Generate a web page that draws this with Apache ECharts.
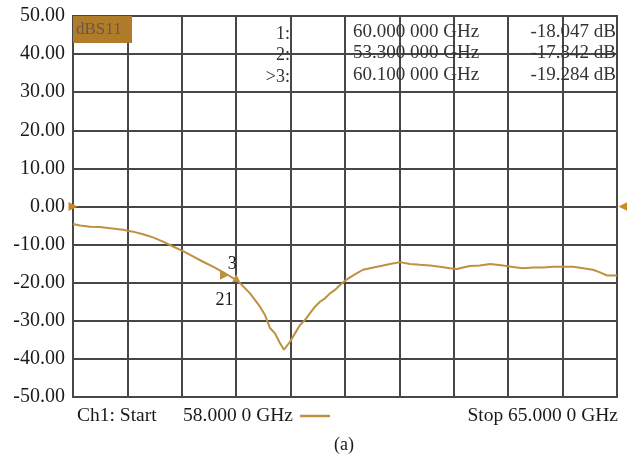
<!DOCTYPE html>
<html>
<head>
<meta charset="utf-8">
<script src="https://cdn.jsdelivr.net/npm/echarts@6/dist/echarts.min.js"></script>
<style>
html,body{margin:0;padding:0;background:#fff;}
#chart{width:627px;height:459px;}
</style>
</head>
<body>
<div id="chart"></div>
<script>
// ---- data ----
var freqGHz = [58.000, 58.090, 58.219, 58.347, 58.476, 58.643, 58.772, 58.901, 59.029, 59.158,
  59.287, 59.415, 59.544, 59.673, 59.801, 59.930, 60.000, 60.059, 60.100, 60.149,
  60.278, 60.406, 60.471, 60.535, 60.599, 60.664, 60.715, 60.792, 60.857, 60.921,
  60.985, 61.050, 61.114, 61.178, 61.243, 61.307, 61.371, 61.436, 61.500, 61.564,
  61.654, 61.732, 61.822, 61.912, 61.989, 62.079, 62.208, 62.337, 62.465, 62.594,
  62.723, 62.851, 62.941, 63.018, 63.109, 63.237, 63.366, 63.456, 63.533, 63.662,
  63.791, 63.919, 64.048, 64.177, 64.305, 64.434, 64.563, 64.691, 64.781, 64.872, 65.000];
var s11dB = [-4.6, -5.0, -5.3, -5.4, -5.7, -6.1, -6.6, -7.3, -8.1, -9.2,
  -10.5, -11.7, -13.1, -14.5, -15.8, -17.2, -18.05, -18.8, -19.28, -20.1,
  -22.8, -26.3, -28.5, -31.9, -33.3, -35.9, -37.6, -35.5, -33.3, -31.1,
  -29.8, -28.0, -26.3, -25.0, -24.1, -22.8, -21.9, -20.6, -19.5, -18.6,
  -17.5, -16.6, -16.2, -15.8, -15.5, -15.1, -14.6, -15.1, -15.3, -15.5,
  -15.8, -16.2, -16.4, -16.0, -15.6, -15.5, -15.1, -15.3, -15.5, -15.9,
  -16.2, -16.0, -16.0, -15.8, -15.8, -15.8, -16.2, -16.6, -17.3, -18.1, -18.1];
var markerIds = ['1:', '2:', '>3:'];
var markerFreqText = ['60.000 000 GHz', '53.300 000 GHz', '60.100 000 GHz'];
var markerValText = ['-18.047 dB', '-17.342 dB', '-19.284 dB'];
var markerOnTrace = [[60.0, -18.047, '21'], [60.1, -19.284, '3']];
var refLevel = 0;
var startText = 'Ch1: Start', startFreqText = '58.000 0 GHz', stopText = 'Stop 65.000 0 GHz';
var traceName = 'dBS11';
var caption = '(a)';
var xMin = 58, xMax = 65, yMin = -50, yMax = 50, yStep = 10, xDivs = 10;

// ---- chart ----
var serif = "'Liberation Serif','DejaVu Serif',serif";
var traceColor = '#bf9040';
var gridColor = '#474747';
var textColor = '#1a1a1a';
var chart = echarts.init(document.getElementById('chart'), null, {renderer: 'canvas'});

var pts = freqGHz.map(function (f, i) { return [f, s11dB[i]]; });

var graphics = [
  {type: 'rect', left: 73, top: 16, shape: {width: 59, height: 27}, style: {fill: '#b07c2a'}, z: 10},
  {type: 'text', x: 76, y: 30, z: 11, style: {text: traceName, fill: '#6a5844', font: '17px ' + serif, textAlign: 'left', textVerticalAlign: 'middle'}},
  {type: 'text', x: 77, y: 416, style: {text: startText, fill: textColor, font: '19.5px ' + serif, textAlign: 'left', textVerticalAlign: 'middle'}},
  {type: 'text', x: 183, y: 416, style: {text: startFreqText, fill: textColor, font: '19.5px ' + serif, textAlign: 'left', textVerticalAlign: 'middle'}},
  {type: 'line', shape: {x1: 300, y1: 416, x2: 330, y2: 416}, style: {stroke: traceColor, lineWidth: 2.5}},
  {type: 'text', x: 618, y: 416, style: {text: stopText, fill: textColor, font: '19.5px ' + serif, textAlign: 'right', textVerticalAlign: 'middle'}},
  {type: 'text', x: 344, y: 445, style: {text: caption, fill: textColor, font: '18px ' + serif, textAlign: 'center', textVerticalAlign: 'middle'}}
];
var rowY = [34, 55, 77];
markerIds.forEach(function (id, i) {
  graphics.push({type: 'text', x: 290, y: rowY[i], z: 5, style: {text: id, fill: '#333', font: '18px ' + serif, textAlign: 'right', textVerticalAlign: 'middle'}});
  graphics.push({type: 'text', x: 353, y: rowY[i] - 2, z: 5, style: {text: markerFreqText[i], fill: '#333', font: '19px ' + serif, textAlign: 'left', textVerticalAlign: 'middle'}});
  graphics.push({type: 'text', x: 616, y: rowY[i] - 2, z: 5, style: {text: markerValText[i], fill: '#333', font: '19px ' + serif, textAlign: 'right', textVerticalAlign: 'middle'}});
});

var option = {
  backgroundColor: '#ffffff',
  animation: false,
  grid: {left: 73, right: 10, top: 16, bottom: 62, show: true, borderColor: gridColor, borderWidth: 2, backgroundColor: 'transparent'},
  xAxis: [
    {type: 'value', min: xMin, max: xMax, show: true, axisLine: {show: false}, axisTick: {show: false}, axisLabel: {show: false}, splitLine: {show: false}},
    {type: 'value', min: 0, max: xDivs, interval: 1, position: 'bottom', axisLine: {show: false}, axisTick: {show: false}, axisLabel: {show: false},
      splitLine: {show: true, lineStyle: {color: gridColor, width: 2}}}
  ],
  yAxis: {
    type: 'value', min: yMin, max: yMax, interval: yStep,
    axisLine: {show: false}, axisTick: {show: false},
    axisLabel: {margin: 8, color: textColor, fontFamily: serif, fontSize: 20, formatter: function (v) { return v.toFixed(2); }},
    splitLine: {show: true, lineStyle: {color: gridColor, width: 2}}
  },
  series: [{
    type: 'line', name: traceName, xAxisIndex: 0, data: pts, showSymbol: false, symbol: 'none',
    lineStyle: {color: traceColor, width: 2}, z: 3,
    markPoint: {
      silent: true,
      data: [
        {coord: [markerOnTrace[0][0], markerOnTrace[0][1]], symbol: 'triangle', symbolSize: 9, symbolRotate: -90, symbolOffset: [-4, 0],
          itemStyle: {color: traceColor},
          label: {show: true, formatter: markerOnTrace[0][2], position: 'bottom', distance: 12, color: textColor, fontFamily: serif, fontSize: 18}},
        {coord: [markerOnTrace[1][0], markerOnTrace[1][1]], symbol: 'triangle', symbolSize: 8, symbolRotate: 0, symbolOffset: [0, -2],
          itemStyle: {color: traceColor},
          label: {show: true, formatter: markerOnTrace[1][2], position: 'top', distance: 1, offset: [-4, 0], color: textColor, fontFamily: serif, fontSize: 18}},
        {coord: [xMin, refLevel], symbol: 'triangle', symbolSize: 9, symbolRotate: -90, itemStyle: {color: '#c8862a'}, label: {show: false}},
        {coord: [xMax, refLevel], symbol: 'triangle', symbolSize: 9, symbolRotate: 90, symbolOffset: [6, 0], itemStyle: {color: '#d08a20'}, label: {show: false}}
      ]
    }
  }],
  graphic: graphics
};
chart.setOption(option);
</script>
</body>
</html>
